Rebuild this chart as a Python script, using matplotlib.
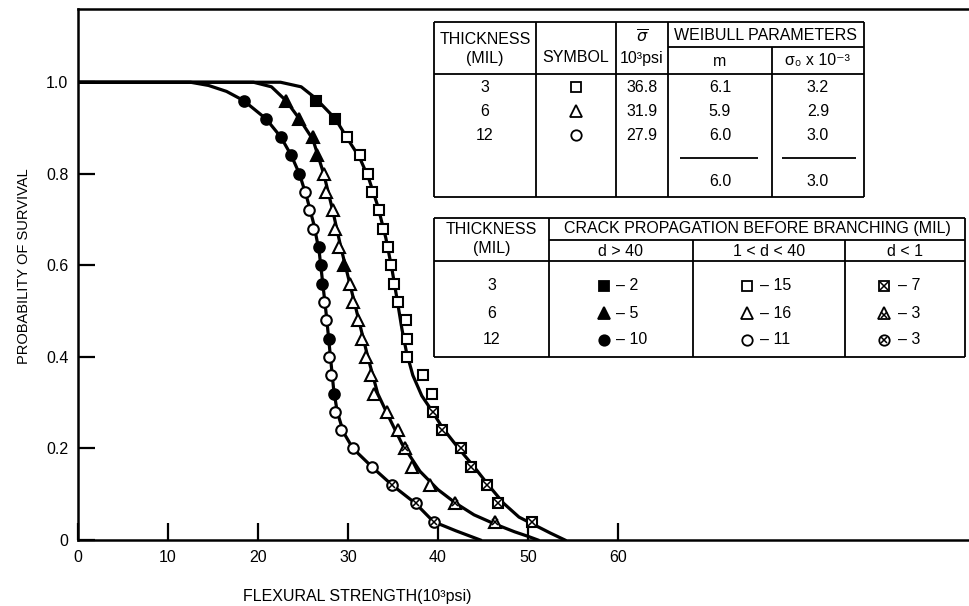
import numpy as np
import matplotlib.pyplot as plt

plt.rcParams['font.family'] = ['Liberation Sans', 'DejaVu Sans']
plt.rcParams['font.size'] = 11.5

# Survival probability ranks, same for all three thicknesses (24 specimens each)
P = [0.96, 0.92, 0.88, 0.84, 0.80, 0.76, 0.72, 0.68, 0.64, 0.60, 0.56, 0.52,
     0.48, 0.44, 0.40, 0.36, 0.32, 0.28, 0.24, 0.20, 0.16, 0.12, 0.08, 0.04]

# Flexural strength of each specimen [10^3 psi]
# kind: f = d > 40 (filled), o = 1 < d < 40 (open), x = d < 1 (crossed)
x_3mil = [26.4, 28.6, 29.9, 31.3, 32.2, 32.7, 33.4, 33.9, 34.4, 34.8, 35.1, 35.6,
          36.4, 36.6, 36.5, 38.3, 39.3, 39.4, 40.4, 42.6, 43.7, 45.4, 46.7, 50.4]
kind_3mil = ['f', 'f'] + ['o'] * 15 + ['x'] * 7

x_6mil = [23.1, 24.6, 26.1, 26.6, 27.3, 27.6, 28.3, 28.6, 29.0, 29.6, 30.2, 30.55,
          31.15, 31.5, 32.0, 32.6, 32.9, 34.3, 35.6, 36.3, 37.1, 39.1, 41.9, 46.3]
kind_6mil = ['f', 'f', 'f', 'f', 'o', 'o', 'o', 'o', 'o', 'f', 'o', 'o',
             'o', 'o', 'o', 'o', 'o', 'o', 'o', 'x', 'o', 'o', 'x', 'x']

x_12mil = [18.4, 20.9, 22.55, 23.7, 24.6, 25.2, 25.7, 26.1, 26.8, 27.0, 27.1, 27.35,
           27.55, 27.9, 27.9, 28.1, 28.4, 28.6, 29.2, 30.55, 32.65, 34.9, 37.5, 39.5]
kind_12mil = ['f', 'f', 'f', 'f', 'f', 'o', 'o', 'o', 'f', 'f', 'f', 'o',
              'o', 'f', 'o', 'o', 'f', 'o', 'o', 'o', 'o', 'x', 'x', 'x']

# Fitted curves
curve_3_x = [0, 22.5, 24.8, 26.4, 28.6, 30.0, 31.3, 32.3, 33.3, 34.2, 34.9, 35.5, 36.0,
             36.5, 37.2, 38.2, 39.4, 40.5, 42.3, 44.0, 45.6, 47.3, 49.0, 50.5, 52.5, 54.1]
curve_3_p = [1.0, 1.0, 0.99, 0.965, 0.92, 0.875, 0.835, 0.79, 0.73, 0.66, 0.59, 0.52, 0.46,
             0.41, 0.36, 0.315, 0.28, 0.245, 0.20, 0.16, 0.12, 0.08, 0.05, 0.035, 0.015, 0.0]

curve_6_x = [0, 19.5, 21.5, 23.1, 24.6, 26.1, 27.3, 28.3, 29.2, 30.2, 31.2, 32.2, 33.3,
             34.5, 36.0, 38.0, 40.0, 42.0, 44.0, 46.3, 48.5, 50.0, 51.1]
curve_6_p = [1.0, 1.0, 0.99, 0.96, 0.92, 0.875, 0.80, 0.72, 0.64, 0.56, 0.48, 0.40, 0.32,
             0.27, 0.21, 0.15, 0.11, 0.08, 0.055, 0.035, 0.018, 0.008, 0.0]

curve_12_x = [0, 12.5, 14.5, 16.5, 18.4, 20.9, 22.55, 23.7, 24.6, 25.4, 26.2, 26.8,
              27.2, 27.6, 28.0, 28.4, 28.8, 29.5, 30.55, 32.65, 34.9, 37.5, 39.5, 42.0, 44.7]
curve_12_p = [1.0, 1.0, 0.993, 0.98, 0.96, 0.92, 0.88, 0.84, 0.80, 0.75, 0.69, 0.63,
              0.56, 0.49, 0.41, 0.33, 0.28, 0.235, 0.20, 0.16, 0.12, 0.08, 0.04, 0.02, 0.0]

# Axis ticks
x_ticks = [0, 10, 20, 30, 40, 50, 60]
y_ticks = [0, 0.2, 0.4, 0.6, 0.8, 1.0]
y_ticklabels = ['0', '0.2', '0.4', '0.6', '0.8', '1.0']

# Table 1: Weibull parameters
t1_thick = ['3', '6', '12']
t1_symbol = ['s', '^', 'o']
t1_sigma = ['36.8', '31.9', '27.9']
t1_m = ['6.1', '5.9', '6.0']
t1_s0 = ['3.2', '2.9', '3.0']
t1_m_avg = '6.0'
t1_s0_avg = '3.0'

# Table 2: crack propagation before branching (counts)
t2_thick = ['3', '6', '12']
t2_big = [2, 5, 10]
t2_mid = [15, 16, 11]
t2_small = [7, 3, 3]

fig = plt.figure(figsize=(9.69, 6.06), dpi=100)
ax = fig.add_axes([78 / 969, 1 - 540 / 606, 891 / 969, 531 / 606])

lw = 2.3
ax.plot(curve_3_x, curve_3_p, color='black', lw=lw, zorder=2)
ax.plot(curve_6_x, curve_6_p, color='black', lw=lw, zorder=2)
ax.plot(curve_12_x, curve_12_p, color='black', lw=lw, zorder=2)


def draw_points(xs, kinds, marker, ms, ms_x):
    xs = np.array(xs)
    ps = np.array(P)
    kinds = np.array(kinds)
    f = kinds == 'f'
    o = kinds != 'f'
    x_ = kinds == 'x'
    ax.plot(xs[f], ps[f], ls='none', marker=marker, ms=ms, mfc='black',
            mec='black', mew=1.5, zorder=3)
    ax.plot(xs[o], ps[o], ls='none', marker=marker, ms=ms, mfc='white',
            mec='black', mew=1.5, zorder=3)
    ax.plot(xs[x_], ps[x_], ls='none', marker='x', ms=ms_x, mec='black',
            mew=1.1, zorder=4)


draw_points(x_3mil, kind_3mil, 's', 7.5, 5.3)
draw_points(x_6mil, kind_6mil, '^', 8.6, 3.8)
draw_points(x_12mil, kind_12mil, 'o', 7.6, 4.5)

ax.set_xlim(0, 99)
ax.set_ylim(0, 1.16)
ax.set_xticks(x_ticks)
ax.set_yticks(y_ticks)
ax.set_yticklabels(y_ticklabels)
ax.tick_params(axis='both', direction='in', length=12, width=1.6, labelsize=11.5)
ax.tick_params(axis='x', pad=7)
ax.tick_params(axis='y', pad=7)
for side in ['left', 'bottom', 'top']:
    ax.spines[side].set_linewidth(1.8)
ax.spines['right'].set_visible(False)

ax.set_xlabel('FLEXURAL STRENGTH(10³psi)', fontsize=11.5)
ax.xaxis.set_label_coords(0.313, -0.092)
ax.set_ylabel('PROBABILITY OF SURVIVAL', fontsize=10.5)
ax.yaxis.set_label_coords(-0.0527, 0.515)

# overlay in pixel coordinates for the two tables
tab = fig.add_axes([0, 0, 1, 1], facecolor='none')
tab.set_xlim(0, 969)
tab.set_ylim(606, 0)
tab.axis('off')

tlw = 1.3


def box_line(x0, y0, x1, y1):
    tab.plot([x0, x1], [y0, y1], color='black', lw=tlw, solid_capstyle='butt')


# ---- table 1
L, R, T, B = 434, 864, 22, 197
c1, c2, c3, c4 = 536, 616, 668, 772
tab.fill([L, R, R, L], [T, T, B, B], color='white', zorder=0)
box_line(L, T, R, T)
box_line(L, B, R, B)
box_line(L, T, L, B)
box_line(R, T, R, B)
for c in [c1, c2, c3]:
    box_line(c, T, c, B)
box_line(c4, 47, c4, B)
box_line(c3, 47, R, 47)
box_line(L, 74, R, 74)
box_line(680, 158, 758, 158)
box_line(782, 158, 856, 158)

fs = 11.5
kw = dict(ha='center', va='center', fontsize=fs)
tab.text((L + c1) / 2, 39, 'THICKNESS', **kw)
tab.text((L + c1) / 2, 58, '(MIL)', **kw)
tab.text((c1 + c2) / 2, 58, 'SYMBOL', **kw)
tab.text((c2 + c3) / 2, 37, r'$\overline{\sigma}$', **kw)
tab.text((c2 + c3) / 2, 58, '10³psi', **kw)
tab.text((c3 + R) / 2, 36, 'WEIBULL PARAMETERS', **kw)
tab.text((c3 + c4) / 2, 61, 'm', **kw)
tab.text((c4 + R) / 2, 61, 'σ₀ x 10⁻³', **kw)
rows1 = [87, 111, 135]
for i, y in enumerate(rows1):
    tab.text((L + c1) / 2, y, t1_thick[i], **kw)
    tab.plot([(c1 + c2) / 2], [y], marker=t1_symbol[i], ms=8.5 if t1_symbol[i] == '^' else 7.5,
             mfc='white', mec='black', mew=1.3)
    tab.text((c2 + c3) / 2, y, t1_sigma[i], **kw)
    tab.text((c3 + c4) / 2, y, t1_m[i], **kw)
    tab.text((c4 + R) / 2, y, t1_s0[i], **kw)
tab.text((c3 + c4) / 2, 182, t1_m_avg, **kw)
tab.text((c4 + R) / 2, 182, t1_s0_avg, **kw)

# ---- table 2
L, R, T, B = 434, 965, 218, 357
d1, d2, d3 = 549, 693, 845
tab.fill([L, R, R, L], [T, T, B, B], color='white', zorder=0)
box_line(L, T, R, T)
box_line(L, B, R, B)
box_line(L, T, L, B)
box_line(R, T, R, B)
box_line(d1, T, d1, B)
box_line(d2, 240, d2, B)
box_line(d3, 240, d3, B)
box_line(d1, 240, R, 240)
box_line(L, 261, R, 261)

tab.text((L + d1) / 2, 229, 'THICKNESS', **kw)
tab.text((L + d1) / 2, 249, '(MIL)', **kw)
tab.text((d1 + R) / 2, 229, 'CRACK PROPAGATION BEFORE BRANCHING (MIL)', **kw)
tab.text((d1 + d2) / 2, 251, 'd > 40', **kw)
tab.text((d2 + d3) / 2, 251, '1 < d < 40', **kw)
tab.text((d3 + R) / 2, 251, 'd < 1', **kw)

rows2 = [286, 313, 340]
mk = ['s', '^', 'o']
kwl = dict(ha='left', va='center', fontsize=fs)
for i, y in enumerate(rows2):
    tab.text((L + d1) / 2, y, t2_thick[i], **kw)
    ms = 8.5 if mk[i] == '^' else 7.5
    # d > 40 : filled
    tab.plot([604], [y], marker=mk[i], ms=ms, mfc='black', mec='black', mew=1.3)
    tab.text(616, y, '– %d' % t2_big[i], **kwl)
    # 1 < d < 40 : open
    tab.plot([747], [y], marker=mk[i], ms=ms, mfc='white', mec='black', mew=1.3)
    tab.text(760, y, '– %d' % t2_mid[i], **kwl)
    # d < 1 : crossed
    tab.plot([884], [y], marker=mk[i], ms=ms, mfc='white', mec='black', mew=1.3)
    tab.plot([884], [y + (1.5 if mk[i] == '^' else 0)], marker='x',
             ms=5.3 if mk[i] == 's' else 4.0, mec='black', mew=1.1)
    tab.text(898, y, '– %d' % t2_small[i], **kwl)

plt.savefig('out.png', dpi=100)
